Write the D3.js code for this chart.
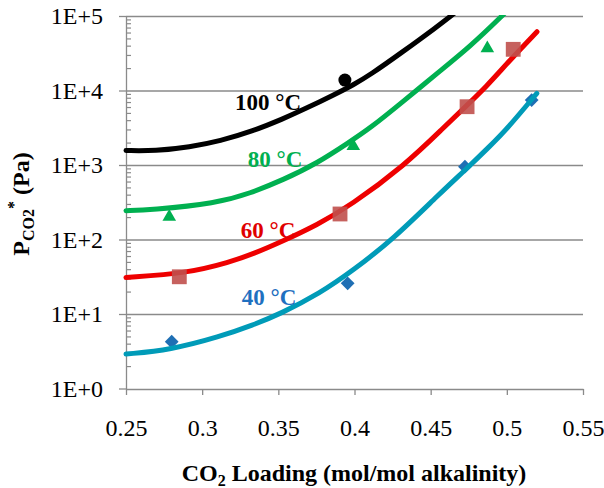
<!DOCTYPE html>
<meta charset="utf-8">
<head>
  <title>PCO2* vs CO2 loading</title>
</head>

<style>
body {
  margin: 0;
  background: #fff;
}
svg text {
  font-family: "Liberation Serif", "Times New Roman", Tinos, "DejaVu Serif", serif;
}
</style>

<body>
  <div id="content">
    <svg width="604" height="488"></svg>
  </div>

  <script src="https://cdnjs.cloudflare.com/ajax/libs/d3/7.8.5/d3.min.js"></script>

  <script>
// fitted curves as [loading, PCO2* in Pa]
var fit100 = [[0.25, 1565], [0.269, 1542], [0.292, 1744], [0.3117, 2100], [0.3334, 2858],
  [0.3531, 4170], [0.3662, 5500], [0.3885, 9170], [0.399, 11860], [0.4102, 16150],
  [0.4318, 33200], [0.4542, 71800], [0.464, 103000], [0.4758, 159000]];
var fit80 = [[0.25, 244], [0.2658, 249], [0.3097, 306], [0.3314, 417], [0.3531, 630],
  [0.3754, 1054], [0.397, 2056], [0.4102, 3110], [0.4318, 7080], [0.4542, 17000],
  [0.4758, 38700], [0.4975, 103000], [0.5073, 164000]];
var fit60 = [[0.25, 30.9], [0.29, 35.2], [0.3183, 49.9], [0.3334, 63.9], [0.3531, 95.5],
  [0.3754, 157], [0.397, 282], [0.4332, 1000], [0.4581, 3110], [0.4739, 6380],
  [0.4857, 10800], [0.5021, 25600], [0.5198, 61500]];
var fit40 = [[0.25, 2.9], [0.2789, 3.29], [0.3117, 4.96], [0.3334, 7.12], [0.3511, 10],
  [0.3774, 19], [0.399, 38.4], [0.4253, 100.6], [0.4561, 417], [0.4739, 903],
  [0.489, 1800], [0.5001, 3040], [0.5197, 9170]];

// measured points
var pts100 = [[0.3937, 13800]];
var pts80 = [[0.2784, 202], [0.3992, 1800], [0.4872, 36900]];
var pts60 = [[0.285, 31.6], [0.3905, 220], [0.4739, 6060], [0.5042, 35700]];
var pts40 = [[0.28, 4.25], [0.3955, 25.8], [0.4725, 948], [0.5163, 7450]];

// curve labels: text, loading, pressure at baseline
var labelText = ['100 \u00B0C', '80 \u00B0C', '60 \u00B0C', '40 \u00B0C'];
var labelX = [0.3216, 0.3299, 0.3253, 0.326];
var labelY = [5470, 940, 105, 13.2];

var xTicks = [0.25, 0.3, 0.35, 0.4, 0.45, 0.5, 0.55];
var yTicks = [1, 10, 100, 1000, 10000, 100000];

var svg = d3.select('#content svg');
var serif = '"Liberation Serif", "Times New Roman", Tinos, "DejaVu Serif", serif';

var x = d3.scaleLinear().domain([0.25, 0.55]).range([126, 583]);
var y = d3.scaleLog().domain([1, 1e5]).range([388.5, 16]);

var axisGrey = '#8a8a8a';

// gridlines
svg.append('g')
  .attr('transform', 'translate(126,0)')
  .call(d3.axisLeft(y).tickValues(yTicks.slice(1)).tickSize(-457).tickFormat(''))
  .call(function(g) {
    g.select('.domain').remove();
    g.selectAll('line').attr('stroke', axisGrey).attr('stroke-width', 1.3);
  });

// minor ticks inside
var minors = [];
yTicks.slice(0, -1).forEach(function(d) {
  for (var k = 2; k < 10; k++) minors.push(d * k);
});
svg.append('g')
  .attr('transform', 'translate(126,0)')
  .call(d3.axisRight(y).tickValues(minors).tickSize(5).tickFormat(''))
  .call(function(g) {
    g.select('.domain').remove();
    g.selectAll('line').attr('stroke', axisGrey).attr('stroke-width', 1.2);
  });

// y axis
var yAxis = svg.append('g')
  .attr('transform', 'translate(126,0)')
  .call(d3.axisLeft(y).tickValues(yTicks).tickSize(7).tickSizeOuter(0).tickPadding(16)
    .tickFormat(function(d) { return '1E+' + Math.round(Math.log10(d)); }));
yAxis.attr('font-family', serif);
yAxis.selectAll('line').attr('stroke', axisGrey).attr('stroke-width', 1.3);
yAxis.select('.domain').attr('stroke', axisGrey).attr('stroke-width', 1.3);
yAxis.selectAll('text').attr('font-size', 24).attr('fill', '#000');

// x axis
var xAxis = svg.append('g')
  .attr('transform', 'translate(0,389)')
  .call(d3.axisBottom(x).tickValues(xTicks).tickSize(6).tickSizeOuter(0).tickPadding(24)
    .tickFormat(function(d) { return String(+d.toFixed(2)); }));
xAxis.attr('font-family', serif);
xAxis.selectAll('line').attr('stroke', axisGrey).attr('stroke-width', 1.3);
xAxis.select('.domain').attr('stroke', axisGrey).attr('stroke-width', 1.3);
xAxis.selectAll('text').attr('font-size', 24).attr('fill', '#000');

// axis titles
var xt = svg.append('text')
  .attr('x', 354).attr('y', 481)
  .attr('text-anchor', 'middle')
  .attr('font-size', 24).attr('font-weight', 'bold');
xt.append('tspan').text('CO');
xt.append('tspan').attr('font-size', 16).attr('dy', 5).text('2');
xt.append('tspan').attr('dy', -5).text(' Loading (mol/mol alkalinity)');

var yt = svg.append('text')
  .attr('transform', 'translate(28.5,204) rotate(-90)')
  .attr('text-anchor', 'middle')
  .attr('font-size', 24).attr('font-weight', 'bold');
yt.append('tspan').text('P');
yt.append('tspan').attr('font-size', 16).attr('dy', 5).text('CO2');
yt.append('tspan').attr('font-size', 16).attr('dy', -15).text('*');
yt.append('tspan').attr('dy', 10).text(' (Pa)');

// clip for curves that run off the top
svg.append('clipPath').attr('id', 'plot')
  .append('rect').attr('x', 100).attr('y', 15).attr('width', 500).attr('height', 380);

var line = d3.line()
  .x(function(d) { return x(d[0]); })
  .y(function(d) { return y(d[1]); })
  .curve(d3.curveBasis);

var sym = function(type, size) {
  return d3.symbol().type(type).size(size)();
};

var under = svg.append('g');
var curves = svg.append('g').attr('clip-path', 'url(#plot)');
var over = svg.append('g');

// triangles and diamonds sit under their lines
under.selectAll('.tri').data(pts80).enter().append('path')
  .attr('d', sym(d3.symbolTriangle, 80))
  .attr('transform', function(d) { return 'translate(' + x(d[0]) + ',' + y(d[1]) + ')'; })
  .attr('fill', '#00b050');

under.selectAll('.dia').data(pts40).enter().append('path')
  .attr('d', sym(d3.symbolSquare, 95))
  .attr('transform', function(d) { return 'translate(' + x(d[0]) + ',' + y(d[1]) + ') rotate(45)'; })
  .attr('fill', '#1f6fb4');

var series = [
  {data: fit100, color: '#000000'},
  {data: fit80, color: '#00b050'},
  {data: fit60, color: '#ee0000'},
  {data: fit40, color: '#009bb8'}
];
curves.selectAll('path').data(series).enter().append('path')
  .attr('d', function(s) { return line(s.data); })
  .attr('fill', 'none')
  .attr('stroke', function(s) { return s.color; })
  .attr('stroke-width', 5)
  .attr('stroke-linecap', 'round');

over.selectAll('.dot').data(pts100).enter().append('path')
  .attr('d', sym(d3.symbolCircle, 133))
  .attr('transform', function(d) { return 'translate(' + x(d[0]) + ',' + y(d[1]) + ')'; })
  .attr('fill', '#000');

over.selectAll('.sq').data(pts60).enter().append('path')
  .attr('d', sym(d3.symbolSquare, 220))
  .attr('transform', function(d) { return 'translate(' + x(d[0]) + ',' + y(d[1]) + ')'; })
  .attr('fill', '#c0504d')
  .attr('fill-opacity', 0.9);

// curve labels
var labelColor = ['#000000', '#00b050', '#e00000', '#1f70c0'];
svg.selectAll('.lbl').data(labelText).enter().append('text')
  .attr('x', function(d, i) { return x(labelX[i]); })
  .attr('y', function(d, i) { return y(labelY[i]); })
  .attr('font-size', 23)
  .attr('font-weight', 'bold')
  .attr('fill', function(d, i) { return labelColor[i]; })
  .text(function(d) { return d; });
  </script>
</body>
</html>
